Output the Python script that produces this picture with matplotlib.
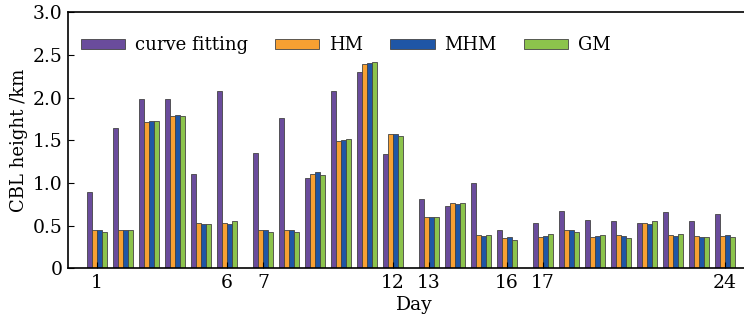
import numpy as np
import matplotlib
matplotlib.use("Agg")
import matplotlib.pyplot as plt

# CBL height (km) per day
days = list(range(1, 25))
curve_fitting = [0.89, 1.64, 1.98, 1.98, 1.10, 2.08, 1.35, 1.76, 1.06, 2.08, 2.30, 1.34,
                 0.81, 0.73, 1.00, 0.445, 0.535, 0.67, 0.57, 0.555, 0.535, 0.66, 0.555, 0.633]
hm = [0.45, 0.45, 1.72, 1.79, 0.535, 0.535, 0.45, 0.45, 1.11, 1.49, 2.39, 1.57,
      0.605, 0.76, 0.387, 0.36, 0.367, 0.445, 0.367, 0.387, 0.535, 0.387, 0.376, 0.376]
mhm = [0.45, 0.45, 1.725, 1.80, 0.52, 0.52, 0.45, 0.45, 1.125, 1.50, 2.405, 1.57,
       0.60, 0.755, 0.376, 0.367, 0.376, 0.445, 0.376, 0.376, 0.52, 0.376, 0.367, 0.387]
gm = [0.42, 0.45, 1.725, 1.785, 0.52, 0.558, 0.42, 0.42, 1.097, 1.512, 2.418, 1.547,
      0.60, 0.765, 0.39, 0.332, 0.398, 0.422, 0.387, 0.36, 0.554, 0.398, 0.367, 0.367]
blocks = [0, 0, 0, 0, 0, 0, 1, 1, 1, 1, 1, 1, 2, 2, 2, 2, 3, 3, 3, 3, 3, 3, 3, 3]
tick_days = [1, 6, 7, 12, 13, 16, 17, 24]

series = [("curve fitting", curve_fitting, "#6a4c9c"),
          ("HM", hm, "#f7a032"),
          ("MHM", mhm, "#1f56a6"),
          ("GM", gm, "#8cc34c")]

plt.rcParams["font.family"] = "DejaVu Serif"
plt.rcParams["mathtext.fontset"] = "dejavuserif"

W, H = 744, 320
fig = plt.figure(figsize=(W / 100, H / 100), dpi=100)
left_px, right_px, top_px, bot_px = 68, 760, 12.3, 268.3
ax = fig.add_axes([left_px / W, 1 - bot_px / H,
                   (right_px - left_px) / W, (bot_px - top_px) / H])

gap = 0.385
centers = np.array([d - 1 + gap * b for d, b in zip(days, blocks)])
bw = 0.2
for k, (name, vals, col) in enumerate(series):
    ax.bar(centers + (k - 1.5) * bw, vals, width=bw, color=col,
           edgecolor="#444444", linewidth=0.6, label=name)

unit = 26.0
xmin = -(97 - left_px) / unit
ax.set_xlim(xmin, xmin + (right_px - left_px) / unit)
ax.set_ylim(0, 3.0)

ax.set_xticks([centers[d - 1] for d in tick_days])
ax.set_xticklabels([str(d) for d in tick_days])
ax.set_yticks([0, 0.5, 1.0, 1.5, 2.0, 2.5, 3.0])
ax.set_yticklabels(["0", "0.5", "1.0", "1.5", "2.0", "2.5", "3.0"])
ax.tick_params(direction="in", labelsize=13.5, length=4, pad=4)

for s in ["top", "bottom", "left"]:
    ax.spines[s].set_linewidth(1.2)
ax.spines["right"].set_visible(False)

ax.set_xlabel("Day", fontsize=13.5, labelpad=3)
ax.set_ylabel("CBL height /km", fontsize=13, labelpad=3)

ax.legend(loc="upper left", bbox_to_anchor=(0.0, 0.955), ncol=4, frameon=False,
          fontsize=13, handlelength=2.45, handleheight=0.45, handletextpad=0.55,
          columnspacing=1.5, borderaxespad=0.3)

fig.savefig("out.png", dpi=100)
